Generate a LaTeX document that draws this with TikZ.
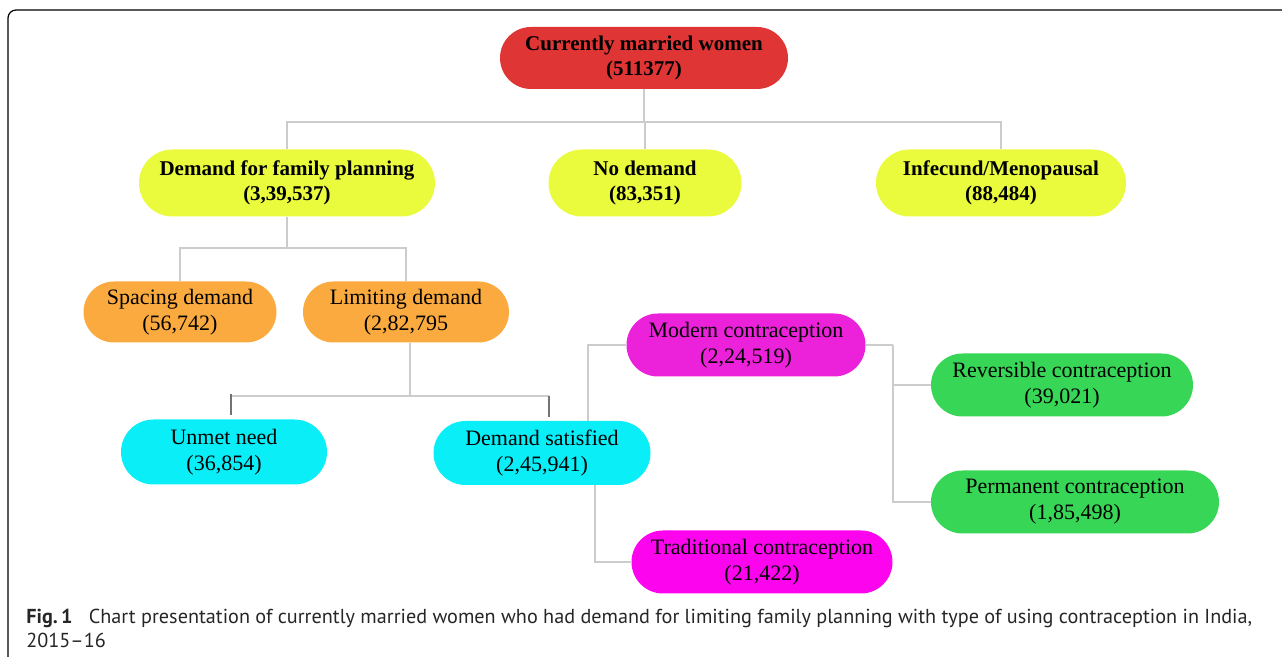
\documentclass[tikz,border=0pt]{standalone}
\usepackage{fontspec}
\setmainfont{Liberation Serif}
\newfontfamily\capfont[Ligatures=TeX]{PT Sans}
\usetikzlibrary{shapes.misc,positioning}
\definecolor{rootred}{RGB}{224,53,53}
\definecolor{demyellow}{RGB}{234,251,62}
\definecolor{limorange}{RGB}{250,170,62}
\definecolor{needcyan}{RGB}{10,238,248}
\definecolor{modmagenta}{RGB}{236,34,218}
\definecolor{tradmagenta}{RGB}{252,4,238}
\definecolor{methgreen}{RGB}{56,214,86}
\definecolor{linkgray}{RGB}{204,204,204}
\tikzstyle{box}=[rounded rectangle,inner sep=0pt,align=center,text=black]
\tikzstyle{bold box}=[box,font=\fontsize{10.5}{12.5}\selectfont\bfseries,minimum height=33.5pt]
\tikzstyle{plain box}=[box,font=\fontsize{11}{13}\selectfont,minimum height=31.5pt]
\tikzstyle{link}=[draw,linkgray,line width=1pt]
\tikzstyle{tick}=[draw,black!55,line width=0.6pt]
\tikzstyle{frame}=[draw,black,line width=0.6pt,rounded corners=4pt]
\tikzstyle{caption}=[anchor=base west,inner sep=0pt,font=\capfont\fontsize{10.1}{12}\selectfont,text=black!85]

\begin{document}
\begin{tikzpicture}[x=0.5pt,y=-0.5pt]
\useasboundingbox (0,0) rectangle (1282,657);

% frame of the figure
\path[frame] (8,657) |- (1282,10);

% the boxes
\node[bold box,fill=rootred,minimum width=144pt,minimum height=31pt] (root) at (644,58) {Currently married women\\(511377)};
\node[bold box,fill=demyellow,minimum width=148pt] (demand) at (287,183) {Demand for family planning\\(3,39,537)};
\node[bold box,fill=demyellow,minimum width=96.5pt] (nodemand) at (645,183) {No demand\\(83,351)};
\node[bold box,fill=demyellow,minimum width=125pt] (infecund) at (1001,183) {Infecund/Menopausal\\(88,484)};

\node[plain box,fill=limorange,minimum width=96.5pt,minimum height=30.5pt] (spacing) at (180,312) {Spacing demand\\(56,742)};
\node[plain box,fill=limorange,minimum width=103pt,minimum height=30.5pt] (limiting) at (406,312) {Limiting demand\\(2,82,795};

\node[plain box,fill=needcyan,minimum width=103pt,minimum height=32.5pt] (unmet) at (224,452) {Unmet need\\(36,854)};
\node[plain box,fill=needcyan,minimum width=108.5pt,minimum height=32pt] (satisfied) at (542,453) {Demand satisfied\\(2,45,941)};

\node[plain box,fill=modmagenta,minimum width=119.5pt] (modern) at (746,345) {Modern contraception\\(2,24,519)};
\node[plain box,fill=tradmagenta,minimum width=130.5pt] (traditional) at (762,562) {Traditional contraception\\(21,422)};

\node[plain box,fill=methgreen,minimum width=131pt] (reversible) at (1062,385) {Reversible contraception\\(39,021)};
\node[plain box,fill=methgreen,minimum width=144pt] (permanent) at (1075,502) {Permanent contraception\\(1,85,498)};

% connect the boxes
\draw[link] (root.south) -- ++(0,33) coordinate (root1);
\foreach \dest in {demand,nodemand,infecund}
\path[link] (root1) -| (\dest.north);

\draw[link] (demand.south) -- ++(0,31) coordinate (demand1);
\foreach \dest in {spacing,limiting}
\path[link] (demand1) -| (\dest.north);

\draw[link] ([xshift=2pt]limiting.south) -- ++(0,53) coordinate (limiting1);
\foreach \dest in {unmet,satisfied}{
\path[link] (limiting1) -| ([shift={(7,-25)}]\dest.north);
\path[tick] ([shift={(7,-25)}]\dest.north) -- ([shift={(7,-4)}]\dest.north);
}

\path[link] ([xshift=23pt]satisfied.north) |- (modern.west);
\path[link] ([xshift=26.5pt]satisfied.south) |- (traditional.west);

\draw[link] (modern.east) -- ++(27,0) coordinate (modern1);
\foreach \dest in {reversible,permanent}
\path[link] (modern1) |- (\dest.west);

% caption
\node[caption] (caption1) at (26,624) {\textbf{Fig.\,1}\hspace{0.8em}Chart presentation of currently married women who had demand for limiting family planning with type of using contraception in India,};
\node[caption] (caption2) at (26,648) {2015–16};

\end{tikzpicture}
\end{document}
